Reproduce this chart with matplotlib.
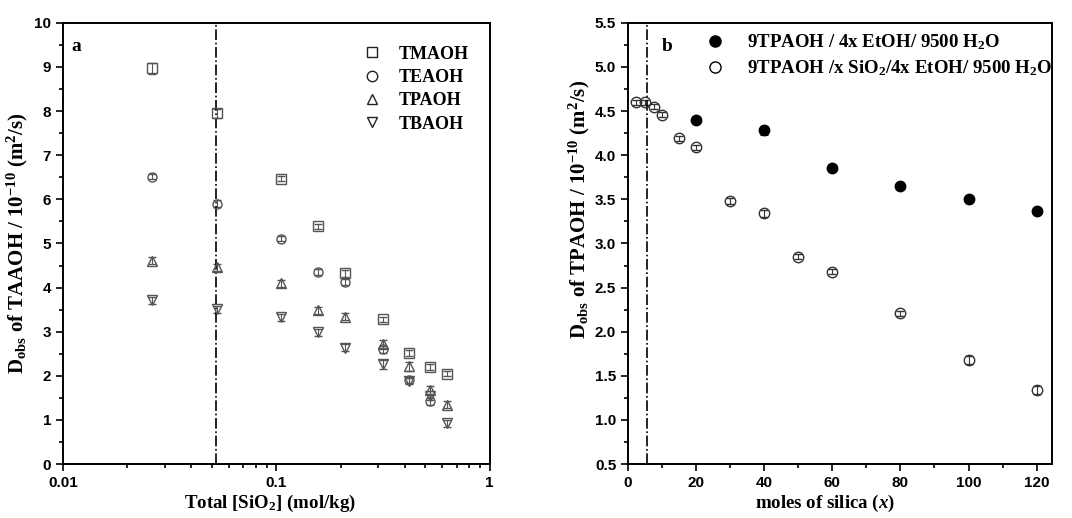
import numpy as np
import matplotlib
matplotlib.use("Agg")
import matplotlib.pyplot as plt
from matplotlib.ticker import MultipleLocator, FixedLocator, FixedFormatter, LogLocator, NullFormatter
from matplotlib.lines import Line2D

# Panel a: diffusivity of each TAAOH vs total silica
silica_conc = [0.02625, 0.0525, 0.105, 0.1575, 0.21, 0.315, 0.42, 0.525, 0.63]
tmaoh = [8.97, 7.95, 6.47, 5.39, 4.32, 3.28, 2.52, 2.20, 2.05]
teaoh = [6.51, 5.90, 5.11, 4.35, 4.13, 2.60, 1.90, 1.42, np.nan]
tpaoh = [4.61, 4.46, 4.10, 3.49, 3.34, 2.72, 2.22, 1.68, 1.35]
tbaoh = [3.71, 3.51, 3.33, 2.99, 2.64, 2.26, 1.89, 1.55, 0.93]
tmaoh_err = [0.12, 0.10, 0.06, 0.06, 0.08, 0.06, 0.06, 0.06, 0.06]
teaoh_err = [0.06, 0.08, 0.06, 0.06, 0.06, 0.08, 0.06, 0.08, np.nan]
tpaoh_err = [0.08, 0.08, 0.08, 0.08, 0.08, 0.10, 0.10, 0.10, 0.08]
tbaoh_err = [0.08, 0.08, 0.08, 0.08, 0.08, 0.10, 0.08, 0.10, 0.08]
cac_a = 0.052

# Panel b: TPAOH diffusivity vs moles of silica
x_ethanol = [20, 40, 60, 80, 100, 120]
d_ethanol = [4.40, 4.28, 3.86, 3.65, 3.50, 3.37]
err_ethanol = [0.02, 0.05, 0.02, 0.02, 0.02, 0.02]
x_silica = [2.5, 5, 7.5, 10, 15, 20, 30, 40, 50, 60, 80, 100, 120]
d_silica = [4.60, 4.60, 4.55, 4.46, 4.19, 4.09, 3.48, 3.34, 2.85, 2.68, 2.21, 1.68, 1.34]
err_silica = [0.03, 0.03, 0.03, 0.03, 0.03, 0.03, 0.03, 0.04, 0.03, 0.03, 0.03, 0.04, 0.04]
cac_b = 5.5

plt.rcParams["mathtext.fontset"] = "custom"
plt.rcParams["mathtext.rm"] = "Liberation Serif:bold"
plt.rcParams["mathtext.it"] = "Liberation Serif:bold:italic"
plt.rcParams["mathtext.bf"] = "Liberation Serif:bold"

serif = dict(family="Liberation Serif", weight="bold")
tick_font = dict(family="Liberation Sans", weight="bold", size=11)

fig = plt.figure(figsize=(10.72, 5.18), dpi=100)
ax1 = fig.add_axes([0.0588, 0.104, 0.398, 0.852])
ax2 = fig.add_axes([0.5858, 0.104, 0.3955, 0.852])


def style_axes(ax):
    for sp in ax.spines.values():
        sp.set_linewidth(1.4)
    ax.tick_params(which="both", direction="out", top=False, right=False, width=1.2)
    ax.tick_params(which="major", length=5)
    ax.tick_params(which="minor", length=3)
    for lab in ax.get_xticklabels() + ax.get_yticklabels():
        lab.set_fontfamily(tick_font["family"])
        lab.set_fontweight(tick_font["weight"])
        lab.set_fontsize(tick_font["size"])


# ---- panel a ----
grey = "#555555"
series = [
    (tmaoh, tmaoh_err, "s", "TMAOH"),
    (teaoh, teaoh_err, "o", "TEAOH"),
    (tpaoh, tpaoh_err, "^", "TPAOH"),
    (tbaoh, tbaoh_err, "v", "TBAOH"),
]
for vals, err, mk, name in series:
    ax1.errorbar(silica_conc, vals, yerr=err, fmt=mk, ms=6.5, mfc="none", mec=grey,
                 mew=1.0, ecolor=grey, elinewidth=0.8, capsize=3, capthick=0.8)
ax1.axvline(cac_a, color="black", ls="-.", lw=1.2)
ax1.set_xscale("log")
ax1.set_xlim(0.01, 1)
ax1.set_ylim(0, 10)
ax1.xaxis.set_major_locator(FixedLocator([0.01, 0.1, 1]))
ax1.xaxis.set_major_formatter(FixedFormatter(["0.01", "0.1", "1"]))
ax1.xaxis.set_minor_locator(LogLocator(base=10, subs=np.arange(2, 10)))
ax1.xaxis.set_minor_formatter(NullFormatter())
ax1.yaxis.set_major_locator(MultipleLocator(1))
ax1.yaxis.set_minor_locator(MultipleLocator(0.5))
style_axes(ax1)
ax1.set_xlabel(r"Total [SiO$_2$] (mol/kg)", fontsize=13.6, **serif)
ax1.xaxis.set_label_coords(0.485, -0.065)
ax1.set_ylabel(r"D$_{\rm obs}$ of TAAOH / 10$^{-10}$ (m$^2$/s)", fontsize=15, **serif)
ax1.yaxis.set_label_coords(-0.078, 0.5)
ax1.text(0.02, 0.935, "a", transform=ax1.transAxes, fontsize=14, **serif)

handles_a = [Line2D([], [], ls="none", marker=mk, ms=7.5, mfc="none", mec="#222222", mew=1.0)
             for _, _, mk, _ in series]
ax1.legend(handles_a, [s[3] for s in series], loc="upper right", frameon=False,
           bbox_to_anchor=(0.99, 0.985), handletextpad=0.5, labelspacing=0.35,
           prop=dict(family="Liberation Serif", weight="bold", size=13))

# ---- panel b ----
ax2.errorbar(x_ethanol, d_ethanol, yerr=err_ethanol, fmt="o", ms=7.5, mfc="black", mec="black",
             ecolor="black", elinewidth=0.8, capsize=3, capthick=0.8,
             label=r"9TPAOH / 4x EtOH/ 9500 H$_2$O")
ax2.errorbar(x_silica, d_silica, yerr=err_silica, fmt="o", ms=7.5, mfc="none", mec="#333333",
             mew=1.0, ecolor="#333333", elinewidth=0.8, capsize=3, capthick=0.8,
             label=r"9TPAOH /x SiO$_2$/4x EtOH/ 9500 H$_2$O")
ax2.axvline(cac_b, color="black", ls="-.", lw=1.2)
ax2.set_xlim(0, 124.5)
ax2.set_ylim(0.5, 5.5)
ax2.xaxis.set_major_locator(MultipleLocator(20))
ax2.xaxis.set_minor_locator(MultipleLocator(10))
ax2.yaxis.set_major_locator(MultipleLocator(0.5))
ax2.yaxis.set_minor_locator(MultipleLocator(0.25))
ax2.yaxis.set_major_formatter(matplotlib.ticker.FormatStrFormatter("%.1f"))
style_axes(ax2)
ax2.set_xlabel(r"moles of silica ($x$)", fontsize=13.6, **serif)
ax2.xaxis.set_label_coords(0.465, -0.065)
ax2.set_ylabel(r"D$_{\rm obs}$ of TPAOH / 10$^{-10}$ (m$^2$/s)", fontsize=15, **serif)
ax2.yaxis.set_label_coords(-0.086, 0.578)
ax2.text(0.08, 0.935, "b", transform=ax2.transAxes, fontsize=14, **serif)
h, l = ax2.get_legend_handles_labels()
ax2.legend([Line2D([], [], ls="none", marker="o", ms=8, mfc="black", mec="black"),
            Line2D([], [], ls="none", marker="o", ms=8, mfc="none", mec="black")],
           l, loc="upper left", frameon=False, bbox_to_anchor=(0.12, 1.017),
           handletextpad=0.7, labelspacing=0.35,
           prop=dict(family="Liberation Serif", weight="bold", size=13.6))

fig.savefig("out.png", dpi=100)
